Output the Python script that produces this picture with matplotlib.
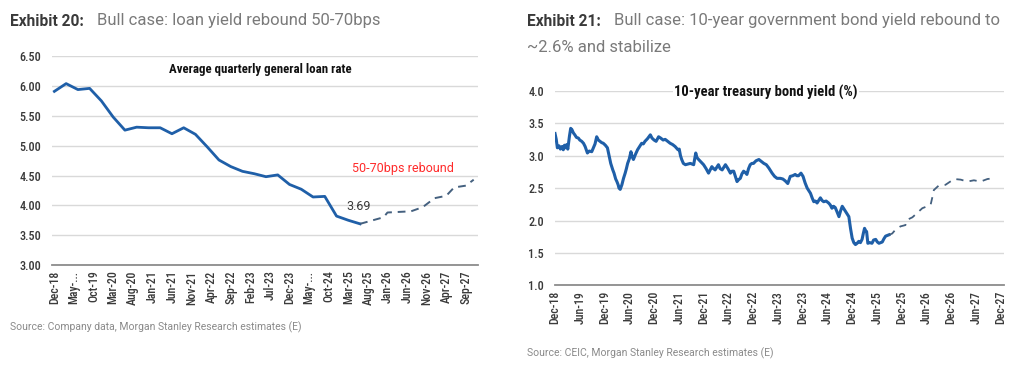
import matplotlib
matplotlib.use("Agg")
import matplotlib.pyplot as plt
from matplotlib import font_manager as fm

names = {f.name for f in fm.fontManager.ttflist}
COND = next((n for n in ["Roboto Condensed", "Liberation Sans Narrow", "Open Sans Condensed"] if n in names), "Roboto")
REG = "Roboto" if "Roboto" in names else "DejaVu Sans"

# ---------------- Data: Exhibit 20 (months since Dec-18) ----------------
loan_months = [0, 3, 6, 9, 12, 15, 18, 21, 24, 27, 30, 33, 36, 39, 42, 45, 48, 51,
               54, 57, 60, 63, 66, 69, 72, 75, 78]
loan_rate = [5.91, 6.04, 5.94, 5.96, 5.75, 5.48, 5.26, 5.31, 5.30, 5.30, 5.20, 5.30,
             5.19, 4.98, 4.76, 4.65, 4.57, 4.53, 4.48, 4.51, 4.35, 4.27, 4.14, 4.15,
             3.82, 3.75, 3.69]
loan_fc_months = [78, 84, 85, 91, 94, 97, 100, 102, 105, 107]
loan_fc_rate = [3.69, 3.80, 3.88, 3.90, 3.97, 4.12, 4.16, 4.30, 4.33, 4.43]
loan_tick_months = [0, 5, 10, 15, 20, 25, 30, 35, 40, 45, 50, 55, 60, 65, 70, 75,
                    80, 85, 90, 95, 100, 105]
loan_tick_labels = ["Dec-18", "May-...", "Oct-19", "Mar-20", "Aug-20", "Jan-21",
                    "Jun-21", "Nov-21", "Apr-22", "Sep-22", "Feb-23", "Jul-23",
                    "Dec-23", "May-...", "Oct-24", "Mar-25", "Aug-25", "Jan-26",
                    "Jun-26", "Nov-26", "Apr-27", "Sep-27"]
loan_yticks = [3.00, 3.50, 4.00, 4.50, 5.00, 5.50, 6.00, 6.50]

# ---------------- Data: Exhibit 21 (months since Dec-18) ----------------
bond_months = [0.0, 0.3, 0.57, 1.0, 1.3, 1.7, 2.0, 2.3, 2.6, 2.83, 3.1, 3.5, 3.8, 4.1,
               4.45, 4.8, 5.2, 5.66, 6.0, 6.47, 6.9, 7.3, 7.85, 8.3, 8.9, 9.3, 9.7,
               10.1, 10.5, 10.9, 11.3, 11.7, 12.2, 12.7, 13.1, 13.5, 14.0, 14.3, 14.7,
               15.0, 15.3, 15.5, 15.8, 16.2, 16.6, 17.0, 17.3, 17.6, 18.0, 18.4, 18.7,
               19.0, 19.5, 20.0, 20.5, 21.0, 21.4, 21.8, 22.4, 23.1, 23.5, 24.0, 24.5,
               25.1, 25.6, 26.2, 26.7, 27.3, 27.9, 28.5, 29.1, 29.5, 29.8, 30.1, 30.4,
               30.7, 31.1, 31.6, 32.2, 32.8, 33.2, 33.6, 34.1, 34.4, 34.8, 35.4, 36.0,
               36.6, 37.2, 37.6, 38.0, 38.4, 38.8, 39.2, 39.6, 40.0, 40.5, 40.9, 41.3,
               41.9, 42.5, 42.9, 43.3, 43.7, 44.1, 44.5, 44.9, 45.3, 45.7, 46.1, 46.5,
               46.9, 47.3, 47.7, 48.1, 48.7, 49.4, 50.0, 50.6, 51.2, 51.8, 52.2, 52.6,
               53.2, 53.8, 54.2, 54.6, 55.2, 55.8, 56.4, 57.0, 57.6, 58.2, 58.6, 59.0,
               59.6, 60.1, 60.6, 61.1, 61.5, 61.9, 62.3, 62.7, 63.1, 63.5, 63.9, 64.3,
               64.7, 65.1, 65.7, 66.3, 66.7, 67.1, 67.5, 67.9, 68.3, 68.8, 69.2, 69.6,
               70.0, 70.4, 70.8, 71.2, 71.6, 72.0, 72.4, 72.8, 73.2, 73.6, 74.0, 74.4,
               74.7, 75.0, 75.3, 75.5, 75.8, 76.3, 76.8, 77.2, 77.7, 78.1, 78.5, 78.9,
               79.3, 79.7, 80.1, 80.5, 80.9]
bond_yield = [3.34, 3.25, 3.12, 3.15, 3.10, 3.14, 3.09, 3.16, 3.12, 3.17, 3.10, 3.30,
              3.42, 3.40, 3.35, 3.32, 3.28, 3.27, 3.24, 3.22, 3.19, 3.14, 3.04, 3.07,
              3.06, 3.12, 3.18, 3.29, 3.24, 3.22, 3.20, 3.19, 3.16, 3.12, 3.00, 2.88,
              2.78, 2.73, 2.64, 2.60, 2.55, 2.50, 2.48, 2.55, 2.65, 2.73, 2.80, 2.88,
              2.95, 3.06, 2.98, 2.94, 3.02, 3.09, 3.14, 3.19, 3.18, 3.22, 3.26, 3.32,
              3.27, 3.24, 3.22, 3.29, 3.27, 3.24, 3.25, 3.22, 3.19, 3.17, 3.14, 3.11,
              3.09, 3.10, 3.00, 2.94, 2.88, 2.86, 2.87, 2.88, 2.87, 2.86, 3.04, 2.97,
              2.94, 2.90, 2.86, 2.80, 2.73, 2.78, 2.83, 2.80, 2.78, 2.82, 2.86, 2.80,
              2.78, 2.82, 2.86, 2.80, 2.73, 2.76, 2.76, 2.68, 2.60, 2.63, 2.65, 2.72,
              2.76, 2.74, 2.71, 2.80, 2.86, 2.88, 2.88, 2.92, 2.94, 2.91, 2.88, 2.86,
              2.81, 2.77, 2.73, 2.68, 2.65, 2.65, 2.65, 2.64, 2.61, 2.57, 2.68, 2.69,
              2.71, 2.69, 2.69, 2.73, 2.68, 2.58, 2.50, 2.46, 2.42, 2.35, 2.29, 2.30,
              2.27, 2.31, 2.35, 2.31, 2.29, 2.30, 2.27, 2.24, 2.19, 2.22, 2.20, 2.14,
              2.06, 2.15, 2.22, 2.18, 2.14, 2.10, 2.06, 1.88, 1.73, 1.66, 1.63, 1.65,
              1.68, 1.66, 1.71, 1.80, 1.88, 1.84, 1.83, 1.65, 1.66, 1.65, 1.70, 1.71,
              1.67, 1.65, 1.66, 1.67, 1.72, 1.76, 1.77, 1.78]
bond_fc_months = [80.9, 81.7, 82.5, 83.7, 84.9, 85.3, 86.6, 87.8, 89.0, 90.2, 91.0,
                  91.4, 91.8, 93.0, 94.6, 96.7, 98.3, 99.9, 101.5, 103.1, 104.8, 106.3]
bond_fc_yield = [1.78, 1.80, 1.86, 1.91, 1.93, 2.01, 2.05, 2.12, 2.19, 2.22, 2.24,
                 2.35, 2.47, 2.54, 2.55, 2.64, 2.63, 2.60, 2.62, 2.60, 2.64, 2.65]
bond_tick_months = [0, 6, 12, 18, 24, 30, 36, 42, 48, 54, 60, 66, 72, 78, 84, 90,
                    96, 102, 108]
bond_tick_labels = ["Dec-18", "Jun-19", "Dec-19", "Jun-20", "Dec-20", "Jun-21",
                    "Dec-21", "Jun-22", "Dec-22", "Jun-23", "Dec-23", "Jun-24",
                    "Dec-24", "Jun-25", "Dec-25", "Jun-26", "Dec-26", "Jun-27",
                    "Dec-27"]
bond_yticks = [1.0, 1.5, 2.0, 2.5, 3.0, 3.5, 4.0]

BLUE = "#1f5fa8"
FC = "#44607f"
GRID = "#d9d9d9"
AXIS = "#8c8c8c"
TXT = "#3a3a3a"

fig = plt.figure(figsize=(10.24, 3.69), dpi=100)


def style(ax, yticks, fmt, xt, xl):
    ax.set_yticks(yticks)
    ax.set_yticklabels([fmt.format(v) for v in yticks], fontsize=8.8,
                       family=COND, color=TXT, fontweight="medium")
    ax.set_xticks(xt)
    ax.set_xticklabels(xl, rotation=90, fontsize=8.6, family=COND, color=TXT,
                       fontweight="medium")
    ax.tick_params(length=0, pad=4)
    ax.tick_params(axis="y", pad=8)
    for s in ["top", "right", "left"]:
        ax.spines[s].set_visible(False)
    ax.spines["bottom"].set_color(AXIS)
    ax.spines["bottom"].set_linewidth(1.3)
    ax.grid(axis="y", color=GRID, linewidth=1.0)
    ax.set_axisbelow(True)


# ---- Left chart ----
ax1 = fig.add_axes([0.0508, 0.2818, 0.416, 0.566])
ax1.plot(loan_months, loan_rate, color=BLUE, lw=2.0, solid_joinstyle="round")
ax1.plot(loan_fc_months, loan_fc_rate, color=FC, lw=1.4, ls=(0, (4, 3)))
ax1.set_xlim(-0.6, 108.1)
ax1.set_ylim(3.0, 6.5)
style(ax1, loan_yticks, "{:.2f}", loan_tick_months, loan_tick_labels)
ax1.text(0.488, 0.935, "Average quarterly general loan rate", transform=ax1.transAxes,
         ha="center", va="center", fontsize=9.3, fontweight="bold", family=COND,
         color="#111111")
ax1.annotate(f"{loan_rate[-1]:.2f}", (loan_months[-1], loan_rate[-1]),
             xytext=(-1, 8), textcoords="offset points", ha="center",
             va="bottom", fontsize=9, family=REG, color=TXT)
ax1.text(89, 4.62, "50-70bps rebound", ha="center", va="center", fontsize=9,
         family=REG, color="#ff2a2a")

# ---- Right chart ----
ax2 = fig.add_axes([0.542, 0.2263, 0.4385, 0.528])
ax2.plot(bond_months, bond_yield, color=BLUE, lw=2.2, solid_joinstyle="round")
ax2.plot(bond_fc_months, bond_fc_yield, color=FC, lw=1.3, ls=(0, (4, 3.5)))
ax2.set_xlim(0, 108.8)
ax2.set_ylim(1.0, 4.0)
style(ax2, bond_yticks, "{:.1f}", bond_tick_months, bond_tick_labels)
ax2.text(0.47, 0.99, "10-year treasury bond yield (%)", transform=ax2.transAxes,
         ha="center", va="center", fontsize=10.5, fontweight="bold", family=COND,
         color="#111111", bbox=dict(facecolor="white", edgecolor="none", pad=1))

# ---- Titles and sources ----
fig.text(10 / 1024, 1 - 21 / 369, "Exhibit 20:", fontsize=11.2, fontweight="bold",
         family=REG, color="#3a3a3a", va="center")
fig.text(97 / 1024, 1 - 21 / 369, "Bull case: loan yield rebound 50-70bps",
         fontsize=12, family=REG, color="#7a7a7a", va="center")
fig.text(527 / 1024, 1 - 21 / 369, "Exhibit 21:", fontsize=11.2, fontweight="bold",
         family=REG, color="#3a3a3a", va="center")
fig.text(614 / 1024, 1 - 21 / 369,
         "Bull case: 10-year government bond yield rebound to",
         fontsize=12, family=REG, color="#7a7a7a", va="center")
fig.text(527 / 1024, 1 - 47 / 369, "~2.6% and stabilize",
         fontsize=12, family=REG, color="#7a7a7a", va="center")
fig.text(10 / 1024, 1 - 327 / 369,
         "Source: Company data, Morgan Stanley Research estimates (E)",
         fontsize=7.5, family=REG, color="#8a8a8a", va="center")
fig.text(527 / 1024, 1 - 353 / 369,
         "Source: CEIC, Morgan Stanley Research estimates (E)",
         fontsize=7.5, family=REG, color="#8a8a8a", va="center")

fig.savefig("out.png", dpi=100, facecolor="white")
